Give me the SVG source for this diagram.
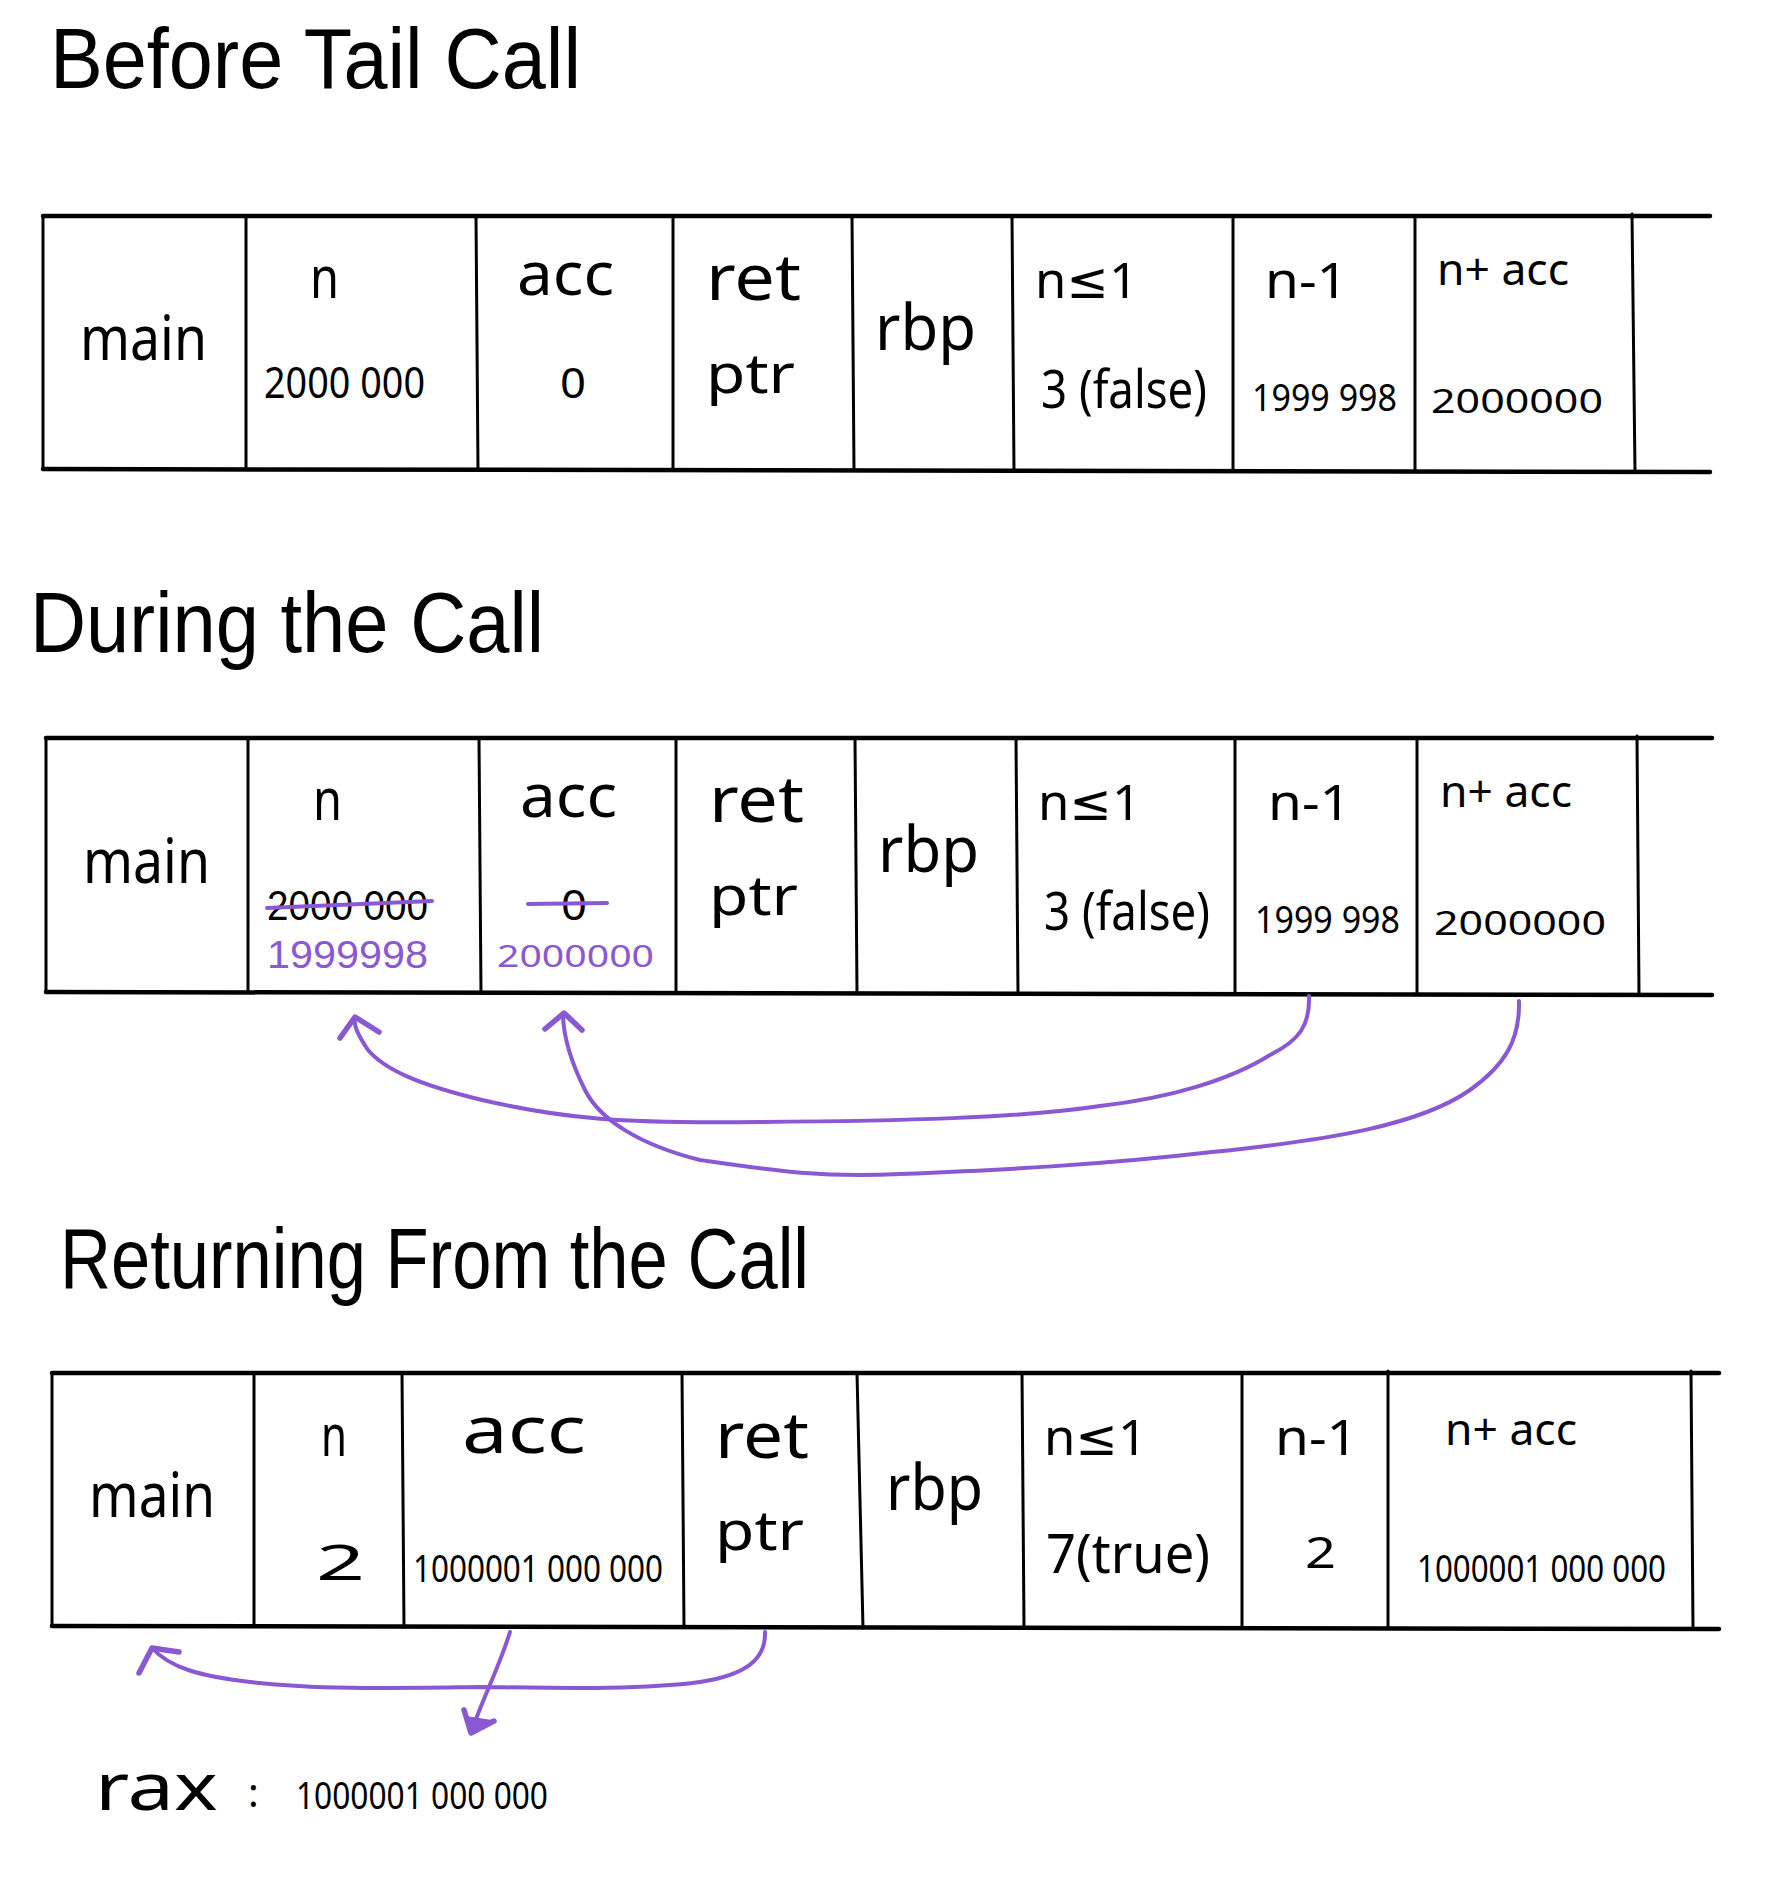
<svg xmlns="http://www.w3.org/2000/svg" width="1780" height="1901" viewBox="0 0 1780 1901">
<defs>
<style>
.bg{fill:#ffffff}
.h{stroke:#000;stroke-width:4.5;fill:none;stroke-linecap:round}
.v{stroke:#000;stroke-width:3;fill:none;stroke-linecap:round}
.t{font-family:"Noto Sans","DejaVu Sans",sans-serif;fill:#000}
.l{font-family:"Liberation Sans","Noto Sans",sans-serif}
.title{font-family:"Liberation Sans","Noto Sans",sans-serif;font-size:86px}
.p{fill:#8b58d4}
.pl{stroke:#8b58d4;stroke-width:4;fill:none;stroke-linecap:round;stroke-linejoin:round}
.ph{stroke:#8b58d4;stroke-width:5.5;fill:none;stroke-linecap:round;stroke-linejoin:round}
</style>
</defs>
<rect class="bg" x="0" y="0" width="1780" height="1901"/>

<!-- Titles -->
<g id="title-before">
<text class="t title" x="50" y="88" textLength="531" lengthAdjust="spacingAndGlyphs">Before Tail Call</text>
</g>
<g id="title-during">
<text class="t title" x="30" y="652" textLength="514" lengthAdjust="spacingAndGlyphs">During the Call</text>
</g>
<g id="title-returning">
<text class="t title" x="60" y="1288" textLength="749" lengthAdjust="spacingAndGlyphs">Returning From the Call</text>
</g>

<!-- Table 1 -->
<g id="table-before">
<path class="h" d="M43,216 L1710,216"/>
<path class="h" d="M43,469 L1710,472"/>
<path class="v" d="M43,216 L43,469 M246,216 L246,469 M476,216 L478,470 M673,216 L673,470 M852,216 L854,470 M1012,216 L1014,471 M1233,216 L1233,471 M1415,216 L1415,471 M1632,214 L1635,472"/>
<g id="t1-main"><text class="t" x="80" y="360" font-size="62" textLength="127" lengthAdjust="spacingAndGlyphs">main</text></g>
<g id="t1-n"><text class="t" x="310" y="298" font-size="58" textLength="29" lengthAdjust="spacingAndGlyphs">n</text>
<text class="t" x="264" y="398" font-size="43" textLength="161" lengthAdjust="spacingAndGlyphs">2000 000</text></g>
<g id="t1-acc"><text class="t" x="517" y="295" font-size="60" textLength="97" lengthAdjust="spacingAndGlyphs">acc</text>
<text class="t" x="560" y="398" font-size="42" textLength="26" lengthAdjust="spacingAndGlyphs">0</text></g>
<g id="t1-ret"><text class="t" x="706" y="300" font-size="64" textLength="95" lengthAdjust="spacingAndGlyphs">ret</text>
<text class="t" x="706" y="393" font-size="55" textLength="89" lengthAdjust="spacingAndGlyphs">ptr</text></g>
<g id="t1-rbp"><text class="t" x="875" y="350" font-size="64" textLength="101" lengthAdjust="spacingAndGlyphs">rbp</text></g>
<g id="t1-cond"><text class="t" x="1035" y="298" font-size="50" textLength="103" lengthAdjust="spacingAndGlyphs">n≤1</text>
<text class="t" x="1041" y="408" font-size="52" textLength="166" lengthAdjust="spacingAndGlyphs">3 (false)</text></g>
<g id="t1-nm1"><text class="t" x="1265" y="298" font-size="50" textLength="83" lengthAdjust="spacingAndGlyphs">n-1</text>
<text class="t" x="1252" y="411" font-size="38" textLength="145" lengthAdjust="spacingAndGlyphs">1999 998</text></g>
<g id="t1-sum"><text class="t" x="1437" y="285" font-size="43" textLength="132" lengthAdjust="spacingAndGlyphs">n+ acc</text>
<text class="t" x="1431" y="413" font-size="32" textLength="172" lengthAdjust="spacingAndGlyphs">2000000</text></g>
</g>

<!-- Table 2 -->
<g id="table-during">
<path class="h" d="M46,738 L1712,738"/>
<path class="h" d="M46,992 L1712,995"/>
<path class="v" d="M46,738 L46,992 M248,738 L248,992 M479,738 L481,993 M676,738 L676,993 M855,738 L857,993 M1016,738 L1018,994 M1235,738 L1235,994 M1417,738 L1417,994 M1637,736 L1639,995"/>
<g id="t2-main"><text class="t" x="83" y="883" font-size="62" textLength="127" lengthAdjust="spacingAndGlyphs">main</text></g>
<g id="t2-n"><text class="t" x="313" y="820" font-size="58" textLength="29" lengthAdjust="spacingAndGlyphs">n</text>
<text class="t l" x="267" y="920" font-size="42" textLength="161" lengthAdjust="spacingAndGlyphs">2000 000</text>
<text class="t l p" x="267" y="968" font-size="38" textLength="161" lengthAdjust="spacingAndGlyphs">1999998</text></g>
<g id="t2-acc"><text class="t" x="520" y="817" font-size="60" textLength="97" lengthAdjust="spacingAndGlyphs">acc</text>
<text class="t" x="561" y="920" font-size="42" textLength="26" lengthAdjust="spacingAndGlyphs">0</text>
<text class="t p" x="497" y="967" font-size="30" textLength="157" lengthAdjust="spacingAndGlyphs">2000000</text></g>
<g id="t2-ret"><text class="t" x="709" y="822" font-size="64" textLength="95" lengthAdjust="spacingAndGlyphs">ret</text>
<text class="t" x="709" y="915" font-size="55" textLength="89" lengthAdjust="spacingAndGlyphs">ptr</text></g>
<g id="t2-rbp"><text class="t" x="878" y="872" font-size="64" textLength="101" lengthAdjust="spacingAndGlyphs">rbp</text></g>
<g id="t2-cond"><text class="t" x="1038" y="820" font-size="50" textLength="103" lengthAdjust="spacingAndGlyphs">n≤1</text>
<text class="t" x="1044" y="930" font-size="52" textLength="166" lengthAdjust="spacingAndGlyphs">3 (false)</text></g>
<g id="t2-nm1"><text class="t" x="1268" y="820" font-size="50" textLength="83" lengthAdjust="spacingAndGlyphs">n-1</text>
<text class="t" x="1255" y="933" font-size="38" textLength="145" lengthAdjust="spacingAndGlyphs">1999 998</text></g>
<g id="t2-sum"><text class="t" x="1440" y="807" font-size="43" textLength="132" lengthAdjust="spacingAndGlyphs">n+ acc</text>
<text class="t" x="1434" y="935" font-size="32" textLength="172" lengthAdjust="spacingAndGlyphs">2000000</text></g>
<g id="strikes">
<path class="pl" d="M267,908 L432,901"/>
<path class="pl" d="M528,904 L607,903"/>
</g>
</g>

<!-- Table 3 -->
<g id="table-returning">
<path class="h" d="M52,1373 L1719,1373"/>
<path class="h" d="M52,1626 L1719,1629"/>
<path class="v" d="M52,1373 L52,1626 M254,1373 L254,1626 M402,1373 L404,1627 M682,1373 L684,1627 M857,1373 L863,1628 M1022,1373 L1024,1628 M1242,1373 L1242,1628 M1388,1371 L1388,1628 M1691,1371 L1693,1629"/>
<g id="t3-main"><text class="t" x="89" y="1517" font-size="62" textLength="126" lengthAdjust="spacingAndGlyphs">main</text></g>
<g id="t3-n"><text class="t" x="321" y="1456" font-size="58" textLength="26" lengthAdjust="spacingAndGlyphs">n</text>
<text class="t" x="316" y="1580" font-size="50" textLength="49" lengthAdjust="spacingAndGlyphs">2</text></g>
<g id="t3-acc"><text class="t" x="462" y="1453" font-size="66" textLength="124" lengthAdjust="spacingAndGlyphs">acc</text>
<text class="t" x="413" y="1582" font-size="38" textLength="250" lengthAdjust="spacingAndGlyphs">1000001 000 000</text></g>
<g id="t3-ret"><text class="t" x="715" y="1458" font-size="64" textLength="94" lengthAdjust="spacingAndGlyphs">ret</text>
<text class="t" x="715" y="1550" font-size="55" textLength="89" lengthAdjust="spacingAndGlyphs">ptr</text></g>
<g id="t3-rbp"><text class="t" x="886" y="1510" font-size="64" textLength="97" lengthAdjust="spacingAndGlyphs">rbp</text></g>
<g id="t3-cond"><text class="t" x="1044" y="1455" font-size="50" textLength="103" lengthAdjust="spacingAndGlyphs">n≤1</text>
<text class="t" x="1046" y="1573" font-size="55" textLength="164" lengthAdjust="spacingAndGlyphs">7(true)</text></g>
<g id="t3-nm1"><text class="t" x="1275" y="1455" font-size="50" textLength="83" lengthAdjust="spacingAndGlyphs">n-1</text>
<text class="t" x="1305" y="1568" font-size="44" textLength="31" lengthAdjust="spacingAndGlyphs">2</text></g>
<g id="t3-sum"><text class="t" x="1445" y="1445" font-size="43" textLength="132" lengthAdjust="spacingAndGlyphs">n+ acc</text>
<text class="t" x="1417" y="1582" font-size="38" textLength="249" lengthAdjust="spacingAndGlyphs">1000001 000 000</text></g>
</g>

<!-- rax -->
<g id="rax">
<text class="t" x="95" y="1810" font-size="66" textLength="123" lengthAdjust="spacingAndGlyphs">rax</text>
<text class="t" x="248" y="1807" font-size="40">:</text>
<text class="t" x="296" y="1809" font-size="38" textLength="252" lengthAdjust="spacingAndGlyphs">1000001 000 000</text>
</g>

<!-- Connectors -->
<g id="connectors">
<g id="arrow-nm1-to-n">
<path class="pl" d="M1309,996 C1310,1025 1300,1040 1270,1055 C1230,1080 1170,1098 1100,1106 C1020,1118 900,1121 760,1122 C620,1124 560,1118 482,1100 C420,1085 385,1070 368,1050 C358,1035 353,1025 355,1017"/>
<path class="ph" d="M340,1038 L355,1017 L379,1032"/>
</g>
<g id="arrow-sum-to-acc">
<path class="pl" d="M1519,1001 C1520,1040 1505,1065 1470,1090 C1420,1125 1330,1140 1212,1152 C1100,1165 1000,1170 900,1174 C820,1178 770,1170 700,1160 C640,1145 600,1120 585,1090 C570,1060 563,1035 563,1013"/>
<path class="ph" d="M545,1029 L564,1013 L582,1030"/>
</g>
<g id="arrow-ret-to-main">
<path class="pl" d="M765,1632 C766,1660 745,1675 700,1682 C640,1690 560,1688 480,1687 C400,1688 320,1690 250,1682 C200,1676 170,1668 152,1648"/>
<path class="ph" d="M139,1673 L152,1648 L179,1652"/>
</g>
<g id="arrow-acc-to-rax">
<path class="pl" d="M510,1632 C500,1665 482,1700 471,1733"/>
<path class="ph" d="M464,1710 L471,1733 L494,1721"/>
<path class="p" d="M466,1716 L472,1733 L492,1720 Z"/>
</g>
</g>
</svg>
